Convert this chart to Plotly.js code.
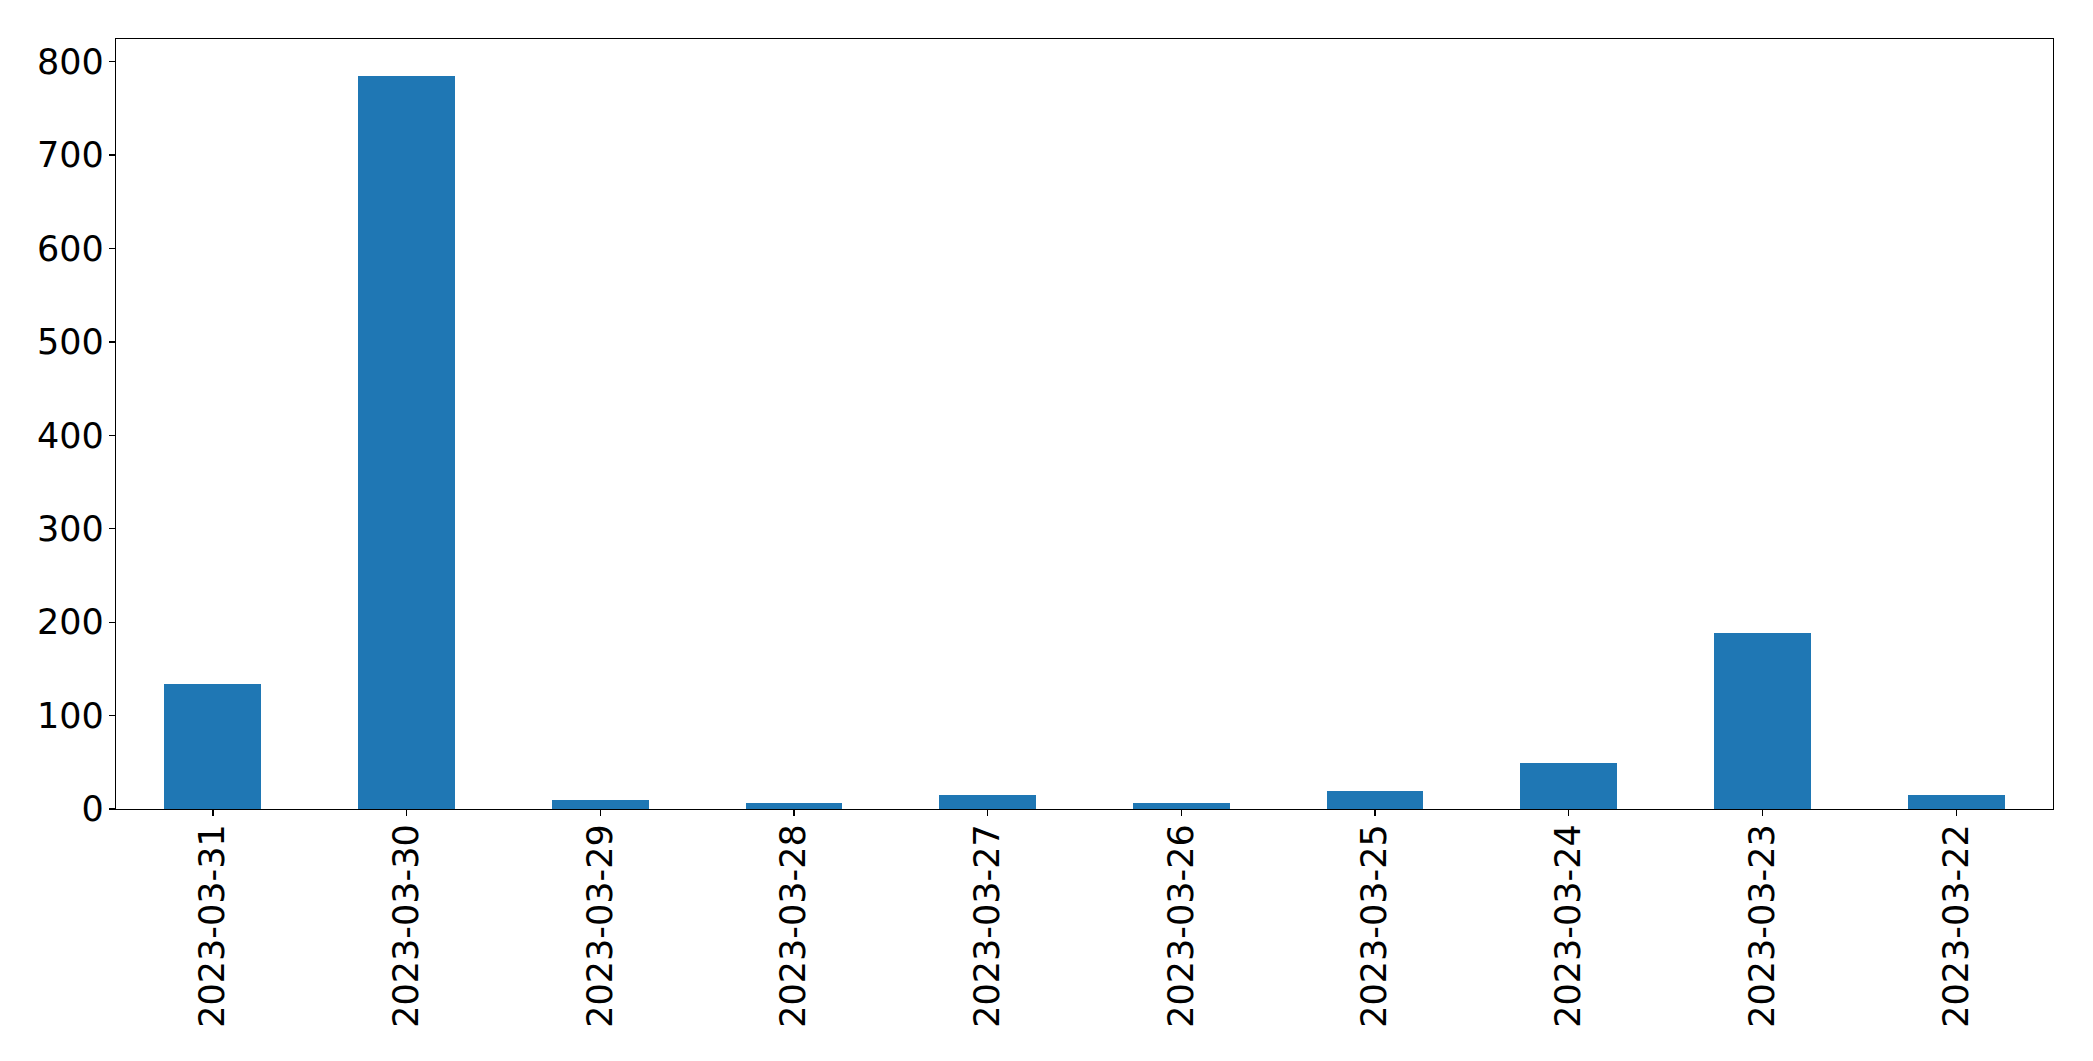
<!DOCTYPE html>
<html>
<head>
<meta charset="utf-8">
<script src="https://cdn.plot.ly/plotly-3.0.1.min.js"></script>
<style>html,body{margin:0;padding:0;background:#fff;}#chart{width:2093px;height:1061px;}</style>
</head>
<body>
<div id="chart"></div>
<script>
const dates = ["2023-03-31","2023-03-30","2023-03-29","2023-03-28","2023-03-27","2023-03-26","2023-03-25","2023-03-24","2023-03-23","2023-03-22"];
const counts = [134, 785, 10, 6, 15, 6, 19, 49, 188, 15];
const yTicks = [0, 100, 200, 300, 400, 500, 600, 700, 800];

const trace = {
  type: "bar",
  x: dates,
  y: counts,
  width: 0.5,
  marker: {color: "#1f77b4", line: {width: 0}},
  hoverinfo: "x+y"
};

const tickFont = {family: "DejaVu Sans, sans-serif", size: 35, color: "#000000"};

const layout = {
  width: 2093,
  height: 1061,
  margin: {l: 116, r: 40, t: 39, b: 252, pad: 0},
  paper_bgcolor: "#ffffff",
  plot_bgcolor: "#ffffff",
  showlegend: false,
  font: tickFont,
  bargap: 0,
  xaxis: {
    type: "category",
    range: [-0.5, dates.length - 0.5],
    tickangle: -90,
    ticks: "outside",
    ticklen: 6,
    tickwidth: 1.3,
    tickcolor: "#000000",
    showline: true,
    linecolor: "#000000",
    linewidth: 1.3,
    mirror: true,
    showgrid: false,
    zeroline: false,
    tickfont: tickFont,
    ticklabelstandoff: -6
  },
  yaxis: {
    range: [0, 824.25],
    tickmode: "array",
    tickvals: yTicks,
    ticktext: yTicks.map(String),
    ticks: "outside",
    ticklen: 6,
    tickwidth: 1.3,
    tickcolor: "#000000",
    showline: true,
    linecolor: "#000000",
    linewidth: 1.3,
    mirror: true,
    showgrid: false,
    zeroline: false,
    tickfont: tickFont,
    ticklabelstandoff: -2
  }
};

Plotly.newPlot("chart", [trace], layout, {displayModeBar: false, staticPlot: true});
</script>
</body>
</html>
